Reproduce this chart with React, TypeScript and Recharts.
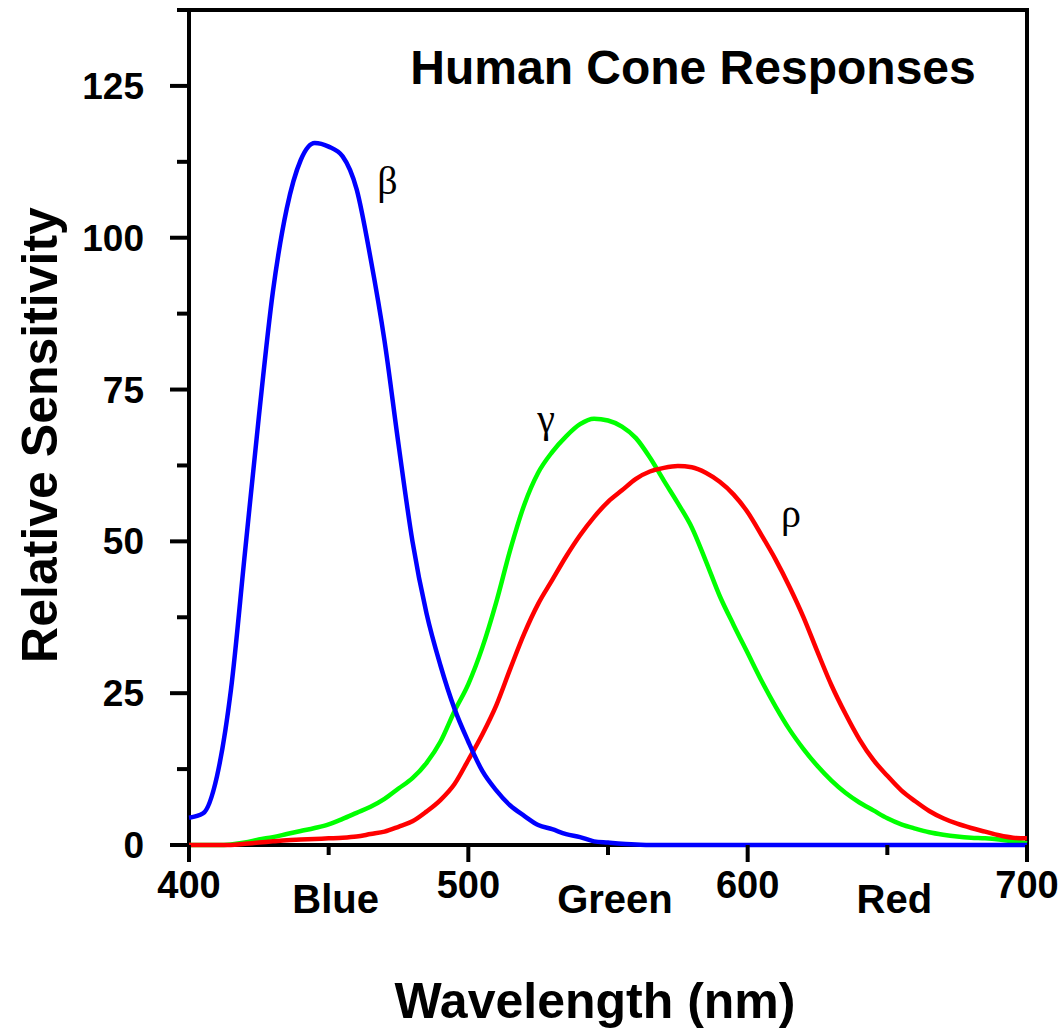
import React from "react";
import { LineChart, Line, XAxis, YAxis, ReferenceArea, ReferenceDot } from "recharts";

const wavelengths = [
  400, 405, 410, 415, 420, 425, 430, 435, 440, 445, 450, 455, 460, 465, 470, 475, 480, 485, 490, 495,
  500, 505, 510, 515, 520, 525, 530, 535, 540, 545, 550, 555, 560, 565, 570, 575, 580, 585, 590, 595,
  600, 605, 610, 615, 620, 625, 630, 635, 640, 645, 650, 655, 660, 665, 670, 675, 680, 685, 690, 695, 700,
];

const blueCone = [
  4.5, 5.2, 11.3, 25.5, 48, 70.5, 91, 104.8, 112.8, 115.6, 115, 113.4, 108, 96.6, 83, 66, 50, 38.2, 29.6, 22.5,
  17, 12.2, 9, 6.5, 4.8, 3.3, 2.6, 1.8, 1.3, 0.6, 0.4, 0.2, 0.1, 0, 0, 0, 0, 0, 0, 0,
  0, 0, 0, 0, 0, 0, 0, 0, 0, 0, 0, 0, 0, 0, 0, 0, 0, 0, 0, 0, 0,
];

const greenCone = [
  0, 0, 0, 0.1, 0.4, 0.9, 1.3, 1.8, 2.3, 2.8, 3.4, 4.3, 5.3, 6.3, 7.6, 9.3, 11, 13.5, 17, 22,
  26.5, 32.5, 40, 48.6, 56, 61.3, 64.7, 67.3, 69.3, 70.2, 69.9, 68.9, 67, 63.8, 60, 56.3, 52.3, 46.8, 41, 36.2,
  31.6, 27, 22.8, 19, 15.8, 13, 10.6, 8.6, 7, 5.7, 4.4, 3.4, 2.7, 2.1, 1.7, 1.4, 1.2, 1.1, 0.9, 0.6, 0.3,
];

const redCone = [
  0, 0, 0, 0, 0.2, 0.4, 0.6, 0.8, 0.9, 1, 1.1, 1.2, 1.4, 1.8, 2.2, 3, 3.9, 5.5, 7.4, 10,
  14, 18.2, 23, 29, 34.8, 39.7, 43.6, 47.5, 51, 54, 56.5, 58.4, 60.3, 61.5, 62.1, 62.4, 62.2, 61.3, 59.8, 57.7,
  54.8, 51, 47, 42.5, 37.5, 31.8, 26.3, 21.6, 17.4, 14, 11.4, 9, 7.2, 5.6, 4.4, 3.5, 2.8, 2.2, 1.6, 1.2, 1.1,
];

const xTicks = [400, 450, 500, 550, 600, 650, 700];
const xTickLabels: Record<number, string> = {
  400: "400",
  450: "Blue",
  500: "500",
  550: "Green",
  600: "600",
  650: "Red",
  700: "700",
};
const yTicks = [0, 12.5, 25, 37.5, 50, 62.5, 75, 87.5, 100, 112.5, 125, 137.5];

const coneLabels = [
  { nm: 471, value: 109.5, text: "β" },
  { nm: 527.8, value: 70.3, text: "γ" },
  { nm: 615.5, value: 54.7, text: "ρ" },
];

const data = wavelengths.map((nm, i) => ({
  nm,
  blue: blueCone[i],
  green: greenCone[i],
  red: redCone[i],
}));

const SANS = "'Liberation Sans', Arial, sans-serif";
const SERIF = "'Liberation Serif', 'Times New Roman', serif";

function XTick({ x, y, payload }: any) {
  const v = payload.value as number;
  const major = v % 100 === 0;
  return (
    <g>
      <line x1={x} x2={x} y1={y} y2={y + (major ? 17 : 10)} stroke="#000" strokeWidth={4} />
      <text
        x={x + (major ? 0 : 7)}
        y={y + (major ? 53 : 68)}
        textAnchor="middle"
        fontFamily={SANS}
        fontWeight="bold"
        fontSize={major ? 38 : 40}
        fill="#000"
      >
        {xTickLabels[v]}
      </text>
    </g>
  );
}

function YTick({ x, y, payload }: any) {
  const v = payload.value as number;
  const major = v % 25 === 0;
  return (
    <g>
      <line x1={x - (major ? 19 : 12)} x2={x} y1={y} y2={y} stroke="#000" strokeWidth={4} />
      {major && (
        <text
          x={x - 45}
          y={y + 13}
          textAnchor="end"
          fontFamily={SANS}
          fontWeight="bold"
          fontSize={37}
          fill="#000"
        >
          {v}
        </text>
      )}
    </g>
  );
}

export default function App() {
  return (
    <div style={{ position: "absolute", left: 0, top: 0, width: 1064, height: 1034, background: "#fff" }}>
      <LineChart width={1064} height={1034} data={data} margin={{ top: 10, right: 37, bottom: 0, left: 0 }}>
        <XAxis
          dataKey="nm"
          type="number"
          domain={[400, 700]}
          ticks={xTicks}
          height={189}
          tickSize={0}
          tickMargin={0}
          tickLine={false}
          axisLine={false}
          tick={<XTick />}
          interval={0}
        />
        <YAxis
          type="number"
          domain={[0, 137.5]}
          ticks={yTicks}
          width={189}
          tickSize={0}
          tickMargin={0}
          tickLine={false}
          axisLine={false}
          tick={<YTick />}
          interval={0}
        />
        <ReferenceArea x1={400} x2={700} y1={0} y2={137.5} fill="none" stroke="#000" strokeWidth={4} />
        <Line type="monotone" dataKey="green" stroke="#00ff00" strokeWidth={4.5} dot={false} isAnimationActive={false} />
        <Line type="monotone" dataKey="red" stroke="#ff0000" strokeWidth={4.5} dot={false} isAnimationActive={false} />
        <Line type="monotone" dataKey="blue" stroke="#0000ff" strokeWidth={4.5} dot={false} isAnimationActive={false} />
        {coneLabels.map((c) => (
          <ReferenceDot
            key={c.text}
            x={c.nm}
            y={c.value}
            r={0}
            fill="none"
            stroke="none"
            label={{ value: c.text, position: "center", fontFamily: SERIF, fontSize: 40, fill: "#000" }}
          />
        ))}
      </LineChart>
      <svg width={1064} height={1034} style={{ position: "absolute", left: 0, top: 0, pointerEvents: "none" }}>
        <text x={693} y={84} textAnchor="middle" fontFamily={SANS} fontWeight="bold" fontSize={48} fill="#000">
          Human Cone Responses
        </text>
        <text
          x={57}
          y={435}
          transform="rotate(-90 57 435)"
          textAnchor="middle"
          fontFamily={SANS}
          fontWeight="bold"
          fontSize={50}
          fill="#000"
        >
          Relative Sensitivity
        </text>
        <text x={595} y={1018} textAnchor="middle" fontFamily={SANS} fontWeight="bold" fontSize={50} fill="#000">
          Wavelength (nm)
        </text>
      </svg>
    </div>
  );
}
